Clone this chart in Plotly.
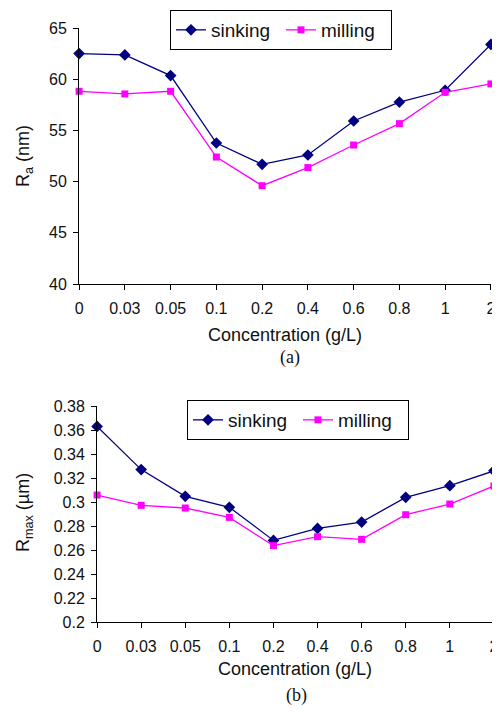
import plotly.graph_objects as go

concentration = ["0", "0.03", "0.05", "0.1", "0.2", "0.4", "0.6", "0.8", "1", "2"]
ra_sinking = [62.5, 62.37, 60.35, 53.77, 51.69, 52.6, 55.92, 57.77, 58.92, 63.4]
ra_milling = [58.82, 58.56, 58.82, 52.4, 49.6, 51.37, 53.57, 55.66, 58.72, 59.54]
rmax_sinking = [0.363, 0.327, 0.3047, 0.2956, 0.268, 0.278, 0.2833, 0.3039, 0.3136, 0.326]
rmax_milling = [0.3058, 0.2972, 0.295, 0.2872, 0.2636, 0.2711, 0.2689, 0.2894, 0.2983, 0.3133]

# The page body has an 8px default margin, so the figure is sized to fill the rest
OFF = 8
W, H = 500 - OFF, 716 - OFF
NAVY = "#000080"
MAG = "#ff00ff"
FONT = "Liberation Sans, Arial, sans-serif"
SERIF = "Liberation Serif, Times New Roman, serif"

fig = go.Figure()

def add(x, y, name, color, symbol, xa, ya, legend, size):
    fig.add_trace(go.Scatter(
        x=x, y=y, name=name, mode="lines+markers", xaxis=xa, yaxis=ya,
        legend=legend, cliponaxis=False,
        line=dict(color=color, width=1.3),
        marker=dict(color=color, symbol=symbol, size=size, line=dict(width=0)),
    ))

add(concentration, ra_sinking, "sinking", NAVY, "diamond", "x", "y", "legend", 9)
add(concentration, ra_milling, "milling", MAG, "square", "x", "y", "legend", 7)
add(concentration, rmax_sinking, "sinking", NAVY, "diamond", "x2", "y2", "legend2", 9)
add(concentration, rmax_milling, "milling", MAG, "square", "x2", "y2", "legend2", 7)

def px_x(p):
    return (p - OFF) / W

def px_y(p):
    return 1 - (p - OFF) / H

axis_common = dict(
    showline=True, linecolor="black", linewidth=1, showgrid=False, zeroline=False,
    ticks="outside", ticklen=5, tickcolor="black", tickwidth=1, automargin=False,
    ticklabeloverflow="allow",
    tickfont=dict(family=FONT, size=16, color="#111"),
)

legend_common = dict(
    orientation="h", xanchor="left", yanchor="top",
    bordercolor="black", borderwidth=1, bgcolor="white",
    font=dict(family=FONT, size=19, color="#111"),
    itemwidth=30, tracegroupgap=0, entrywidth=65,
)

XR = [-0.002, 9.002]

fig.update_layout(
    width=W, height=H, margin=dict(l=0, r=0, t=0, b=0, autoexpand=False),
    paper_bgcolor="white", plot_bgcolor="white",
    font=dict(family=FONT, color="#111"),
    xaxis=dict(domain=[px_x(79), px_x(491)], anchor="y", type="category",
               range=XR, ticklabelstandoff=5, **axis_common),
    yaxis=dict(domain=[px_y(284), px_y(28)], anchor="x", range=[40, 65], dtick=5,
               ticklabelstandoff=3, **axis_common),
    xaxis2=dict(domain=[px_x(97), px_x(494)], anchor="y2", type="category",
                range=XR, ticklabelstandoff=5, **axis_common),
    yaxis2=dict(domain=[px_y(622), px_y(406)], anchor="x2", range=[0.2, 0.38], dtick=0.02,
                ticklabelstandoff=3, **axis_common),
    legend=dict(x=px_x(170), y=px_y(10), **legend_common),
    legend2=dict(x=px_x(187), y=px_y(400), **legend_common),
    showlegend=True,
)

annos = [
    dict(text="R<sub>a</sub> (nm)", x=25, y=156, textangle=-90, family=FONT),
    dict(text="Concentration (g/L)", x=285, y=335, textangle=0, family=FONT),
    dict(text="(a)", x=290, y=357, textangle=0, family=SERIF),
    dict(text="R<sub>max</sub> (µm)", x=25, y=513, textangle=-90, family=FONT),
    dict(text="Concentration (g/L)", x=295, y=669, textangle=0, family=FONT),
    dict(text="(b)", x=296, y=695, textangle=0, family=SERIF),
]
for a in annos:
    fig.add_annotation(
        text=a["text"], x=px_x(a["x"]), y=px_y(a["y"]), xref="paper", yref="paper",
        xanchor="center", yanchor="middle", showarrow=False, textangle=a["textangle"],
        font=dict(family=a["family"], size=18, color="#111"),
    )

fig.write_html("out.html")
